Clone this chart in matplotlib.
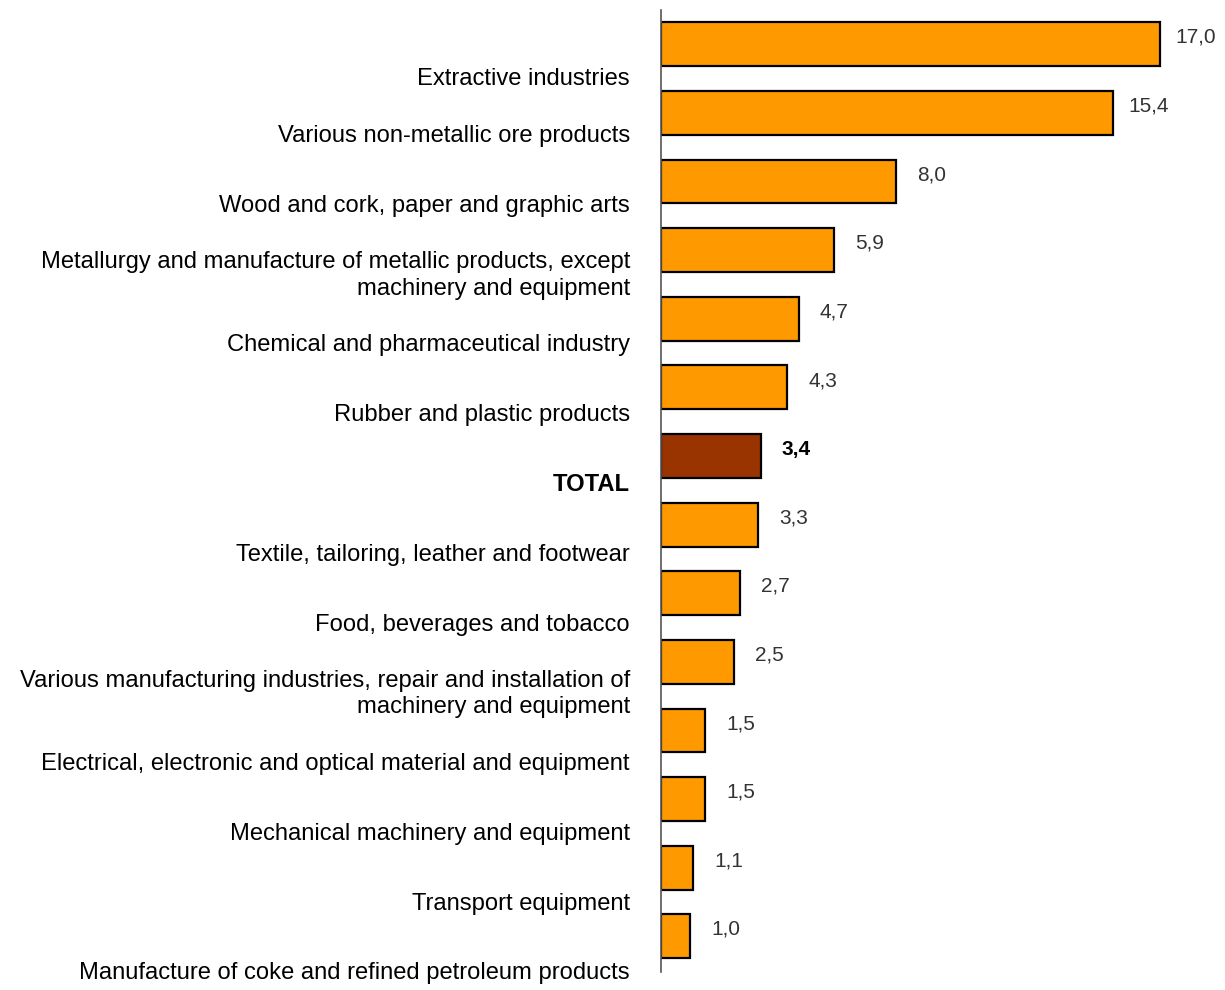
import matplotlib
matplotlib.use("Agg")
import matplotlib.pyplot as plt
import matplotlib.transforms as mtransforms

categories = [
    "Extractive industries",
    "Various non-metallic ore products",
    "Wood and cork, paper and graphic arts",
    "Metallurgy and manufacture of metallic products, except\nmachinery and equipment",
    "Chemical and pharmaceutical industry",
    "Rubber and plastic products",
    "TOTAL",
    "Textile, tailoring, leather and footwear",
    "Food, beverages and tobacco",
    "Various manufacturing industries, repair and installation of\nmachinery and equipment",
    "Electrical, electronic and optical material and equipment",
    "Mechanical machinery and equipment",
    "Transport equipment",
    "Manufacture of coke and refined petroleum products",
]
values = [17.0, 15.4, 8.0, 5.9, 4.7, 4.3, 3.4, 3.3, 2.7, 2.5, 1.5, 1.5, 1.1, 1.0]
value_labels = ["17,0", "15,4", "8,0", "5,9", "4,7", "4,3", "3,4", "3,3",
                "2,7", "2,5", "1,5", "1,5", "1,1", "1,0"]

plt.rcParams["font.family"] = ["Liberation Sans", "DejaVu Sans"]

fig = plt.figure(figsize=(12.25, 9.9), dpi=100)
ax = fig.add_axes([661 / 1225, 18 / 990, 1 - 661 / 1225, 962 / 990])

pos = list(range(len(values)))
colors = ["#993300" if c == "TOTAL" else "#FF9900" for c in categories]
ax.barh(pos, values, height=0.64, color=colors, edgecolor="black", linewidth=1.6)

ax.set_ylim(13.52, -0.5)
ax.set_xlim(0, 19.2)

for s in ["top", "right", "bottom"]:
    ax.spines[s].set_visible(False)
ax.spines["left"].set_color("#555555")
ax.spines["left"].set_linewidth(1.2)
ax.set_xticks([])
ax.set_yticks([])

# category labels sit below each bar, a bit lower going down
trans = mtransforms.blended_transform_factory(ax.transAxes, ax.transData)
for i, c in enumerate(categories):
    off = 0.5 if i == 0 else 0.32 + 0.017 * i
    bold = c == "TOTAL"
    ax.text(-0.055, i + off, c, transform=trans, ha="right", va="center",
            fontsize=17.1, linespacing=1.25,
            fontweight="bold" if bold else "normal", clip_on=False)

for i, (v, lab) in enumerate(zip(values, value_labels)):
    bold = categories[i] == "TOTAL"
    ax.text(v + 1.2, i - 0.1, lab, ha="center", va="center", fontsize=15,
            color="black" if bold else "#333333",
            fontweight="bold" if bold else "normal")

fig.savefig("out.png", dpi=100)
